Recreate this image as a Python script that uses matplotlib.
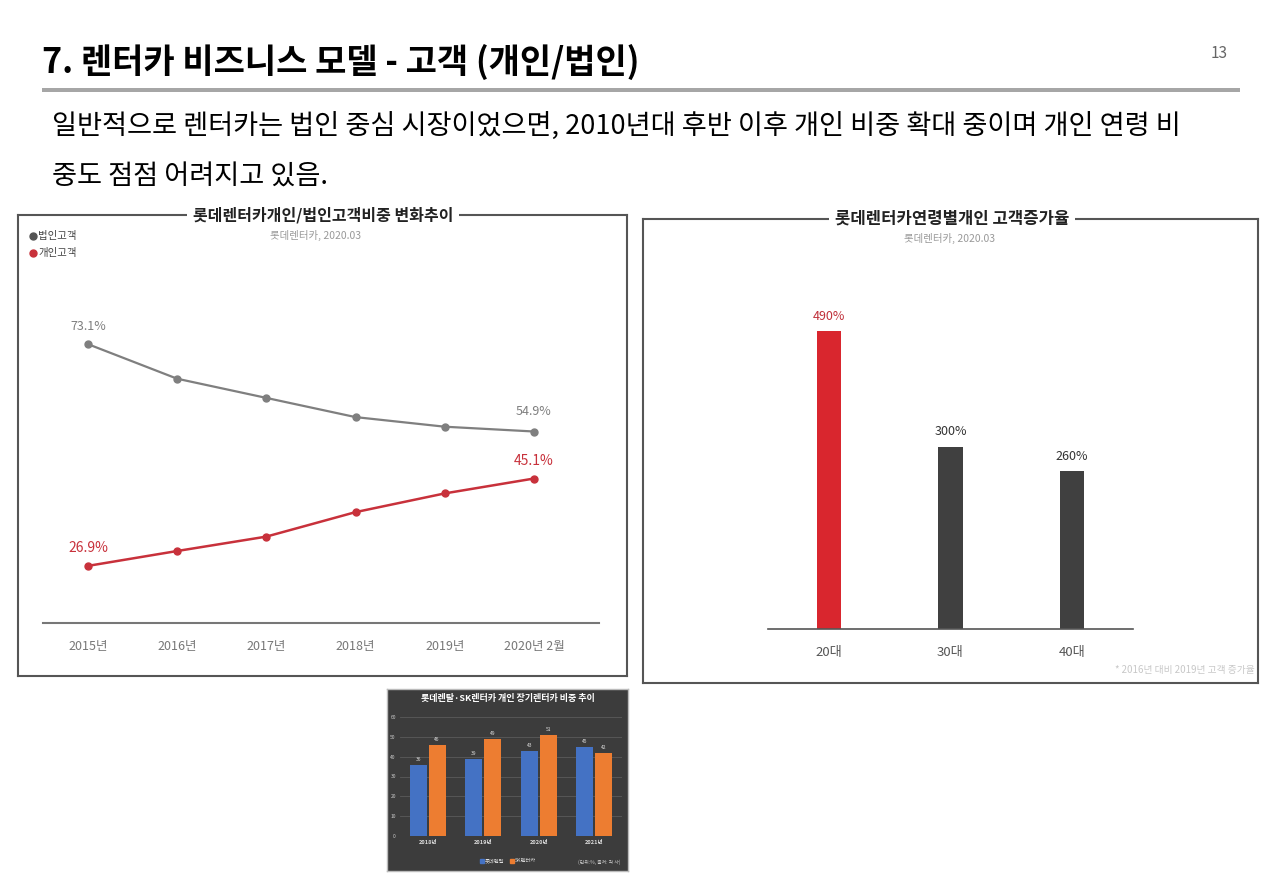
import matplotlib
matplotlib.use('Agg')
import matplotlib.pyplot as plt
import numpy as np

plt.rcParams['font.family'] = ['Noto Sans CJK KR', 'DejaVu Sans']

W, H = 1280, 885

# --- data -------------------------------------------------------------
years = ['2015년', '2016년', '2017년', '2018년', '2019년', '2020년 2월']
corp_share = [73.1, 65.9, 61.9, 57.9, 55.9, 54.9]
indiv_share = [26.9, 30.0, 33.0, 38.1, 42.0, 45.1]

age_groups = ['20대', '30대', '40대']
age_growth = [490, 300, 260]

lt_years = ['2018년', '2019년', '2020년', '2021년']
lotte_rental = [36, 39, 43, 45]
sk_rentacar = [46, 49, 51, 42]


def box(l, t, r, b):
    # pixel box -> figure fraction [left, bottom, width, height]
    return [l / W, 1 - b / H, (r - l) / W, (b - t) / H]


def ftext(x, y, s, **kw):
    return fig.text(x / W, 1 - y / H, s, **kw)


fig = plt.figure(figsize=(W / 100, H / 100), dpi=100)
fig.patch.set_facecolor('white')

# --- slide header -----------------------------------------------------
ftext(42, 62, '7. 렌터카 비즈니스 모델 - 고객 (개인/법인)', fontsize=24.5,
      fontweight='bold', va='center', ha='left', color='black')
ftext(1228, 53, '13', fontsize=11, color='#666666', va='center', ha='right')
rule = fig.add_axes(box(42, 88, 1240, 92))
rule.set_facecolor('#a6a6a6')
rule.set_xticks([])
rule.set_yticks([])
for s in rule.spines.values():
    s.set_visible(False)

ftext(52, 127, '일반적으로 렌터카는 법인 중심 시장이었으면, 2010년대 후반 이후 개인 비중 확대 중이며 개인 연령 비',
      fontsize=19.6, va='center', ha='left', color='black')
ftext(52, 177, '중도 점점 어려지고 있음.', fontsize=19.6, va='center', ha='left', color='black')


def frame(l, t, r, b, color='#555555'):
    f = fig.add_axes(box(l, t, r, b))
    f.set_xticks([])
    f.set_yticks([])
    f.set_facecolor('white')
    for s in f.spines.values():
        s.set_color(color)
        s.set_linewidth(1.5)
    return f


# --- chart 1: line chart ---------------------------------------------
frame(18, 215, 627, 676)
ftext(323, 215, '롯데렌터카개인/법인고객비중 변화추이', fontsize=11.5, fontweight='bold',
      ha='center', va='center', color='#222222',
      bbox=dict(facecolor='white', edgecolor='none', pad=4))
ftext(315, 235, '롯데렌터카, 2020.03', fontsize=7.5, ha='center', va='center', color='#999999')

ax1 = fig.add_axes(box(43, 300, 599, 623))
x = np.arange(len(years))
gray = '#7f7f7f'
red = '#c8313b'
ax1.plot(x, corp_share, color=gray, lw=1.6, marker='o', ms=5)
ax1.plot(x, indiv_share, color=red, lw=1.8, marker='o', ms=5)
ax1.set_xlim(-0.504, 5.73)
ax1.set_ylim(15.0, 82.3)
ax1.set_xticks(x)
ax1.set_xticklabels(years, fontsize=9, color='#777777')
ax1.tick_params(axis='x', length=0, pad=12)
ax1.set_yticks([])
for s in ['top', 'left', 'right']:
    ax1.spines[s].set_visible(False)
ax1.spines['bottom'].set_color('#777777')
ax1.spines['bottom'].set_linewidth(1.5)
ax1.annotate(f'{corp_share[0]}%', (x[0], corp_share[0]), xytext=(0, 10),
             textcoords='offset points', ha='center', fontsize=9, color=gray)
ax1.annotate(f'{corp_share[-1]}%', (x[-1], corp_share[-1]), xytext=(0, 12),
             textcoords='offset points', ha='center', fontsize=9, color=gray)
ax1.annotate(f'{indiv_share[0]}%', (x[0], indiv_share[0]), xytext=(0, 10),
             textcoords='offset points', ha='center', fontsize=10, color=red,
             fontweight='medium')
ax1.annotate(f'{indiv_share[-1]}%', (x[-1], indiv_share[-1]), xytext=(0, 10),
             textcoords='offset points', ha='center', fontsize=10, color=red,
             fontweight='medium')

# legend
fig.lines.append(plt.Line2D([33 / W], [1 - 236 / H], marker='o', ms=5, color='#555555',
                            transform=fig.transFigure))
fig.lines.append(plt.Line2D([33 / W], [1 - 253 / H], marker='o', ms=5, color=red,
                            transform=fig.transFigure))
ftext(38, 236, '법인고객', fontsize=7.5, va='center', color='#444444')
ftext(38, 253, '개인고객', fontsize=7.5, va='center', color='#444444')

# --- chart 2: bar chart ----------------------------------------------
frame(643, 219, 1258, 683)
ftext(952, 219, '롯데렌터카연령별개인 고객증가율', fontsize=12, fontweight='bold',
      ha='center', va='center', color='#222222',
      bbox=dict(facecolor='white', edgecolor='none', pad=4))
ftext(950, 238, '롯데렌터카, 2020.03', fontsize=7.5, ha='center', va='center', color='#999999')

ax2 = fig.add_axes(box(768, 300, 1133, 629))
xb = np.arange(len(age_groups))
bar_colors = ['#d9262e', '#404040', '#404040']
ax2.bar(xb, age_growth, width=0.2, color=bar_colors)
ax2.set_xlim(-0.5, 2.5)
ax2.set_ylim(0, 541)
ax2.set_xticks(xb)
ax2.set_xticklabels(age_groups, fontsize=9.5, color='#555555')
ax2.tick_params(axis='x', length=0, pad=12)
ax2.set_yticks([])
for s in ['top', 'left', 'right']:
    ax2.spines[s].set_visible(False)
ax2.spines['bottom'].set_color('#555555')
ax2.spines['bottom'].set_linewidth(1.2)
for i, v in enumerate(age_growth):
    ax2.annotate(f'{v}%', (xb[i], v), xytext=(0, 8), textcoords='offset points',
                 ha='center', fontsize=9, color='#c0303a' if i == 0 else '#333333',
                 fontweight='medium')
ftext(1255, 670, '* 2016년 대비 2019년 고객 증가율', fontsize=7, ha='right', va='center',
      color='#c8c8c8')

# --- chart 3: dark bar chart image ------------------------------------
bg = fig.add_axes(box(387, 689, 628, 871))
bg.set_facecolor('#3c3c3c')
bg.set_xticks([])
bg.set_yticks([])
for s in bg.spines.values():
    s.set_color('#bbbbbb')
    s.set_linewidth(1.0)
ftext(508, 698, '롯데렌탈·SK렌터카 개인 장기렌터카 비중 추이', fontsize=6.5, fontweight='bold',
      ha='center', va='center', color='white')

ax3 = fig.add_axes(box(400, 717, 622, 836))
ax3.set_facecolor('none')
xg = np.arange(len(lt_years))
bw = 0.3
ax3.bar(xg - bw / 2 - 0.02, lotte_rental, width=bw, color='#4472c4')
ax3.bar(xg + bw / 2 + 0.02, sk_rentacar, width=bw, color='#ed7d31')
ax3.set_ylim(0, 60)
ax3.set_xlim(-0.5, 3.5)
ax3.set_yticks(range(0, 61, 10))
ax3.set_yticklabels([str(t) for t in range(0, 61, 10)], fontsize=3.5, color='#cccccc')
ax3.set_xticks(xg)
ax3.set_xticklabels(lt_years, fontsize=4, color='#dddddd', fontweight='bold')
ax3.tick_params(length=0, pad=3)
ax3.grid(axis='y', color='#5a5a5a', lw=0.6)
ax3.set_axisbelow(True)
for s in ax3.spines.values():
    s.set_visible(False)
for i in range(len(lt_years)):
    ax3.text(xg[i] - bw / 2 - 0.02, lotte_rental[i] + 1.5, str(lotte_rental[i]),
             ha='center', va='bottom', fontsize=3.5, color='#dddddd')
    ax3.text(xg[i] + bw / 2 + 0.02, sk_rentacar[i] + 1.5, str(sk_rentacar[i]),
             ha='center', va='bottom', fontsize=3.5, color='#dddddd')

fig.lines.append(plt.Line2D([482 / W], [1 - 861 / H], marker='s', ms=2.5, ls='none',
                            color='#4472c4', transform=fig.transFigure))
ftext(485, 861, '롯데렌탈', fontsize=3.8, va='center', color='#dddddd')
fig.lines.append(plt.Line2D([512 / W], [1 - 861 / H], marker='s', ms=2.5, ls='none',
                            color='#ed7d31', transform=fig.transFigure))
ftext(515, 861, 'SK렌터카', fontsize=3.8, va='center', color='#dddddd')
ftext(620, 862, '(단위:%, 출처: 각 사)', fontsize=3.5, ha='right', va='center', color='#cccccc')

fig.savefig('out.png', dpi=100, facecolor='white')
